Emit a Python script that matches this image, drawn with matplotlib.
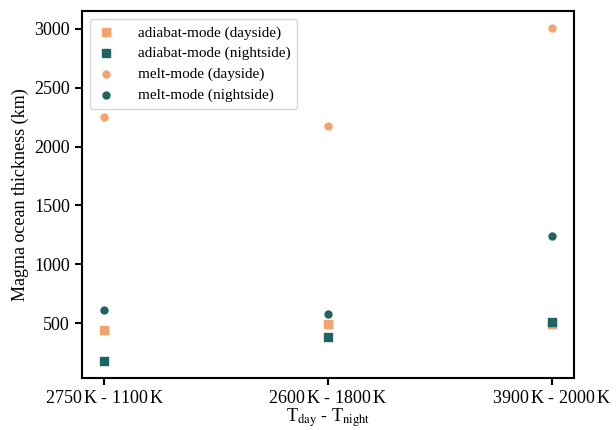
import numpy as np
import matplotlib
matplotlib.use("Agg")
import matplotlib.pyplot as plt

plt.rcParams["font.family"] = ["Liberation Serif", "DejaVu Serif"]
plt.rcParams["mathtext.fontset"] = "stix"

# ---------------- data ----------------
cases = [r"2750$\,$K - 1100$\,$K", r"2600$\,$K - 1800$\,$K", r"3900$\,$K - 2000$\,$K"]
adiabat_day = [440, 493, 490]
adiabat_night = [176, 381, 509]
melt_day = [2252, 2175, 3009]
melt_night = [613, 578, 1240]

c_day = "#f5a26f"
c_night = "#1f6462"

fig, ax = plt.subplots(figsize=(6.16, 4.30), dpi=100)
plt.subplots_adjust(left=0.133, right=0.932, bottom=0.121, top=0.974)

x = np.arange(len(cases))
ax.scatter(x, adiabat_day, marker="s", s=30, color=c_day, label="adiabat-mode (dayside)")
ax.scatter(x, adiabat_night, marker="s", s=30, color=c_night, label="adiabat-mode (nightside)")
ax.scatter(x, melt_day, marker="o", s=25, color=c_day, label="melt-mode (dayside)")
ax.scatter(x, melt_night, marker="o", s=25, color=c_night, label="melt-mode (nightside)")

ax.set_xticks(x)
ax.set_xticklabels(cases)
ax.set_yticks([500, 1000, 1500, 2000, 2500, 3000])
ax.set_xlabel(r"T$_{\rm day}$ - T$_{\rm night}$", fontsize=13, labelpad=0)
ax.set_ylabel("Magma ocean thickness (km)", fontsize=13)

ax.tick_params(axis="both", which="major", labelsize=13, length=5, width=1.5, direction="out")
for s in ax.spines.values():
    s.set_linewidth(1.5)

ax.legend(loc="upper left", fontsize=11, handlelength=1.2, handletextpad=1.5,
          borderpad=0.45, labelspacing=0.45)

plt.savefig("out.png", dpi=100)
